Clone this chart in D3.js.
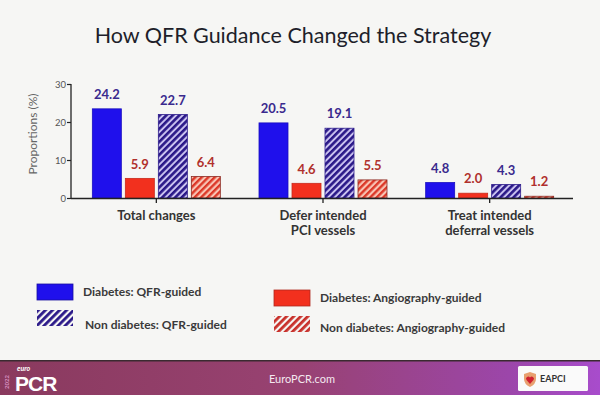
<!DOCTYPE html>
<html>
<head>
<meta charset="utf-8">
<script src="https://cdn.jsdelivr.net/npm/d3@7"></script>
<style>
  html, body { margin: 0; padding: 0; background: #f6f6f4; }
  svg { display: block; }
</style>
</head>
<body>
<svg id="chart" width="600" height="395"></svg>
<script>
// ---- data ----
const categories = ["Total changes", "Defer intended\nPCI vessels", "Treat intended\ndeferral vessels"];
const seriesNames = ["Diabetes: QFR-guided", "Diabetes: Angiography-guided", "Non diabetes: QFR-guided", "Non diabetes: Angiography-guided"];
const diabetesQFR = [24.2, 20.5, 4.8];
const diabetesAngio = [5.9, 4.6, 2.0];
const nonDiabetesQFR = [22.7, 19.1, 4.3];
const nonDiabetesAngio = [6.4, 5.5, 1.2];
const yTicks = [0, 10, 20, 30];
const title = "How QFR Guidance Changed the Strategy";
const yLabel = "Proportions (%)";

const seriesValues = [diabetesQFR, diabetesAngio, nonDiabetesQFR, nonDiabetesAngio];
const seriesStyle = [
  { fill: "#1f10ec", stroke: "#1a0fc0", label: "#3a2a8e" },
  { fill: "#f2301e", stroke: "#c82a1c", label: "#b0302c" },
  { fill: "url(#hatchPurple)", stroke: "#2d1c8c", label: "#3a2a8e" },
  { fill: "url(#hatchRed)", stroke: "#8a2a22", label: "#b0302c" }
];

const svg = d3.select("#chart");
const font = "Lato, 'Open Sans', sans-serif";

// background
svg.append("rect").attr("width", 600).attr("height", 395).attr("fill", "#f6f6f4");

// patterns
const defs = svg.append("defs");
function hatch(id, bg, fg, size, w) {
  const p = defs.append("pattern").attr("id", id).attr("patternUnits", "userSpaceOnUse")
    .attr("width", size).attr("height", size).attr("patternTransform", "rotate(45)");
  if (bg) p.append("rect").attr("width", size).attr("height", size).attr("fill", bg);
  p.append("rect").attr("x", 0).attr("y", 0).attr("width", w).attr("height", size).attr("fill", fg);
}
hatch("hatchPurple", "#cac2f0", "#2a1888", 4.6, 2.6);
hatch("hatchRed", "#f8c4b4", "#dc3828", 4.6, 2.4);
hatch("hatchPurpleL", null, "#2a1888", 5, 2.8);
hatch("hatchRedL", null, "#c8302a", 5, 2.8);

const gradient = defs.append("linearGradient").attr("id", "footerGrad").attr("x1", "0").attr("x2", "1");
gradient.append("stop").attr("offset", "0").attr("stop-color", "#8a3a5e");
gradient.append("stop").attr("offset", "0.5").attr("stop-color", "#984272");
gradient.append("stop").attr("offset", "0.85").attr("stop-color", "#9c46aa");
gradient.append("stop").attr("offset", "1").attr("stop-color", "#a84ccc");

// title
svg.append("text").attr("x", 293).attr("y", 43).attr("text-anchor", "middle")
  .attr("font-family", font).attr("font-size", 21.5).attr("fill", "#201e2a")
  .text(title);

// scales
const x = d3.scaleBand().domain(categories).range([73, 573]).paddingInner(0).paddingOuter(0);
const xi = d3.scaleBand().domain(d3.range(4)).range([-64, 64]).paddingInner(0.121);
const y = d3.scaleLinear().domain([0, 30]).range([198, 84]);
const barShift = 2.8; // bars in the original sit slightly below their nominal height

// y axis
const yAxis = svg.append("g").attr("transform", "translate(71,0)")
  .call(d3.axisLeft(y).tickValues(yTicks).tickSize(4).tickPadding(1));
yAxis.select(".domain").attr("stroke", "#222").attr("stroke-width", 1.3).attr("d", "M0,198.5V84");
yAxis.selectAll(".tick line").attr("stroke", "#222").attr("stroke-width", 1.2);
yAxis.selectAll(".tick text").attr("font-family", font).attr("font-size", 9.5).attr("fill", "#555");

svg.append("text").attr("transform", "translate(37,134) rotate(-90)").attr("text-anchor", "middle")
  .attr("font-family", font).attr("font-size", 12).attr("fill", "#666").text(yLabel);

// bars
categories.forEach((c, ci) => {
  const cx = x(c) + x.bandwidth() / 2;
  seriesValues.forEach((vals, si) => {
    const v = vals[ci];
    const bx = cx + xi(si);
    const top = Math.min(y(v) + barShift, y(0) - 1);
    svg.append("rect").attr("x", bx).attr("y", top).attr("width", xi.bandwidth())
      .attr("height", y(0) - top).attr("fill", seriesStyle[si].fill)
      .attr("stroke", seriesStyle[si].stroke).attr("stroke-width", 0.8);
    svg.append("text").attr("x", bx + xi.bandwidth() / 2).attr("y", y(v) - 7)
      .attr("text-anchor", "middle").attr("font-family", font).attr("font-weight", "bold")
      .attr("font-size", 13).attr("fill", seriesStyle[si].label).text(v.toFixed(1));
  });
});

// x axis
const xAxis = svg.append("g").attr("transform", "translate(0,198)")
  .call(d3.axisBottom(x).tickSize(5).tickFormat(""));
xAxis.select(".domain").attr("stroke", "#222").attr("stroke-width", 1.4).attr("d", "M71,0.5H573");
xAxis.selectAll(".tick line").attr("stroke", "#222").attr("stroke-width", 1.3);

categories.forEach(c => {
  const cx = x(c) + x.bandwidth() / 2;
  const lines = c.split("\n");
  const t = svg.append("text").attr("text-anchor", "middle").attr("font-family", font)
    .attr("font-weight", "bold").attr("font-size", 13).attr("fill", "#333");
  lines.forEach((l, i) => t.append("tspan").attr("x", cx).attr("y", 220 + i * 14.5).text(l));
});

// legend
const legendPos = [
  { x: 37, y: 284, tx: 83, ty: 296 },
  { x: 274, y: 290, tx: 320, ty: 302 },
  { x: 37, y: 310, tx: 85, ty: 329 },
  { x: 274, y: 316, tx: 320, ty: 332 }
];
const legendFill = ["#1f10ec", "#f2301e", "url(#hatchPurpleL)", "url(#hatchRedL)"];
seriesNames.forEach((n, i) => {
  const p = legendPos[i];
  const r = svg.append("rect").attr("x", p.x).attr("y", p.y).attr("width", 36).attr("height", 16)
    .attr("fill", legendFill[i]);
  if (i < 2) r.attr("stroke", i === 0 ? "#1a0fa0" : "#b02a20").attr("stroke-width", 0.8);
  svg.append("text").attr("x", p.tx).attr("y", p.ty).attr("font-family", font)
    .attr("font-size", 12).attr("font-weight", "bold").attr("fill", "#3a3a3a").text(n);
});

// footer
svg.append("rect").attr("x", 0).attr("y", 361).attr("width", 600).attr("height", 34).attr("fill", "url(#footerGrad)");
svg.append("rect").attr("x", 0).attr("y", 360).attr("width", 600).attr("height", 1.5).attr("fill", "#3a2a30");
svg.append("text").attr("x", 302).attr("y", 383).attr("text-anchor", "middle").attr("font-family", font)
  .attr("font-size", 11).attr("fill", "#f4e8f0").text("EuroPCR.com");
svg.append("text").attr("transform", "translate(9,389) rotate(-90)").attr("font-family", font)
  .attr("font-size", 6).attr("fill", "#d890c0").attr("font-weight", "bold").text("2022");
svg.append("text").attr("x", 17).attr("y", 371).attr("font-family", font).attr("font-style", "italic")
  .attr("font-size", 7).attr("font-weight", "bold").attr("fill", "#fff").text("euro");
svg.append("text").attr("x", 15).attr("y", 391).attr("font-family", "'Liberation Sans', sans-serif")
  .attr("font-size", 21).attr("font-weight", "bold").attr("fill", "#fff").attr("letter-spacing", -1).text("PCR");
svg.append("rect").attr("x", 518).attr("y", 366).attr("width", 70).attr("height", 25).attr("rx", 1.5).attr("fill", "#fafafa");
svg.append("path").attr("d", "M524,374 l6,-2 l6,2 v5 q0,5 -6,8 q-6,-3 -6,-8 z").attr("fill", "#e8a070");
svg.append("path").attr("d", "M530,384 l-3.5,-4 a2,2 0 0 1 3.5,-2.5 a2,2 0 0 1 3.5,2.5 z").attr("fill", "#d02030");
svg.append("text").attr("x", 540).attr("y", 382).attr("font-family", font).attr("font-size", 9)
  .attr("font-weight", "bold").attr("fill", "#333").text("EAPCI");
</script>
</body>
</html>
